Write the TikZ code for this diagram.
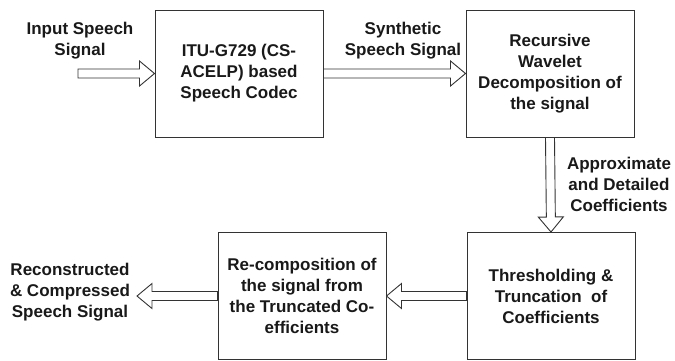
\documentclass[tikz,border=0pt]{standalone}
\usepackage{fontspec}
\setmainfont{Liberation Sans}
\usepackage{tikz}
\usepackage{xcolor}
\colorlet{linecolor}{black!80}
\colorlet{textcolor}{black!90}
\usetikzlibrary{
  calc,
}

\begin{document}
\begin{tikzpicture}[x=1pt, y=-1pt]
	\tikzstyle{every node}=[font=\bfseries\fontsize{17}{21}\selectfont, text=textcolor, align=center]
	\tikzset{
		block/.style={draw=linecolor, line width=1pt, inner sep=0pt, minimum width=168pt, minimum height=127pt},
		hollow/.style={draw=linecolor, fill=white, line width=0.9pt, to path={
			let \p1=(\tikztostart), \p2=(\tikztotarget),
			    \n1={atan2(\y2-\y1,\x2-\x1)}, \n2={veclen(\x2-\x1,\y2-\y1)} in
			{[shift={(\p1)}, rotate=\n1]
			 (0,4.5) -- (\n2-15,4.5) -- (\n2-15,12.5) -- (\n2,0)
			 -- (\n2-15,-12.5) -- (\n2-15,-4.5) -- (0,-4.5) -- cycle}
		}},
	}
	\useasboundingbox (0,0) rectangle (675,360);
	% basic structure
	\node (codec) [block] at (239,73.5) {ITU-G729 (CS-\\ACELP) based\\Speech Codec};
	\node (wavelet) [block] at (550,73.5) {Recursive\\Wavelet\\Decomposition of\\the signal};
	\node (thresh) [block] at (551,296) {Thresholding \&\\Truncation~ of\\Coefficients};
	\node (recomp) [block] at (302,296) {Re-composition of\\the signal from\\the Truncated Co-\\efficients};
	% free ends
	\coordinate (inpt) at (78,73.5);
	\coordinate (outpt) at (137,296);
	% Arrows
	\draw [hollow] (inpt) to (codec.west);
	\draw [hollow] (codec.east) to (wavelet.west);
	\draw [hollow] (wavelet.south) to (thresh.north);
	\draw [hollow] (thresh.west) to (recomp.east);
	\draw [hollow] (recomp.west) to (outpt);
	% Labels
	\node (inlabel) at (80,41) {Input Speech\\Signal};
	\node (synlabel) at (403,41) {Synthetic\\Speech Signal};
	\node (coeflabel) at (619,184) {Approximate\\and Detailed\\Coefficients};
	\node (outlabel) at (70,292) {Reconstructed\\\& Compressed\\Speech Signal};
\end{tikzpicture}
\end{document}
